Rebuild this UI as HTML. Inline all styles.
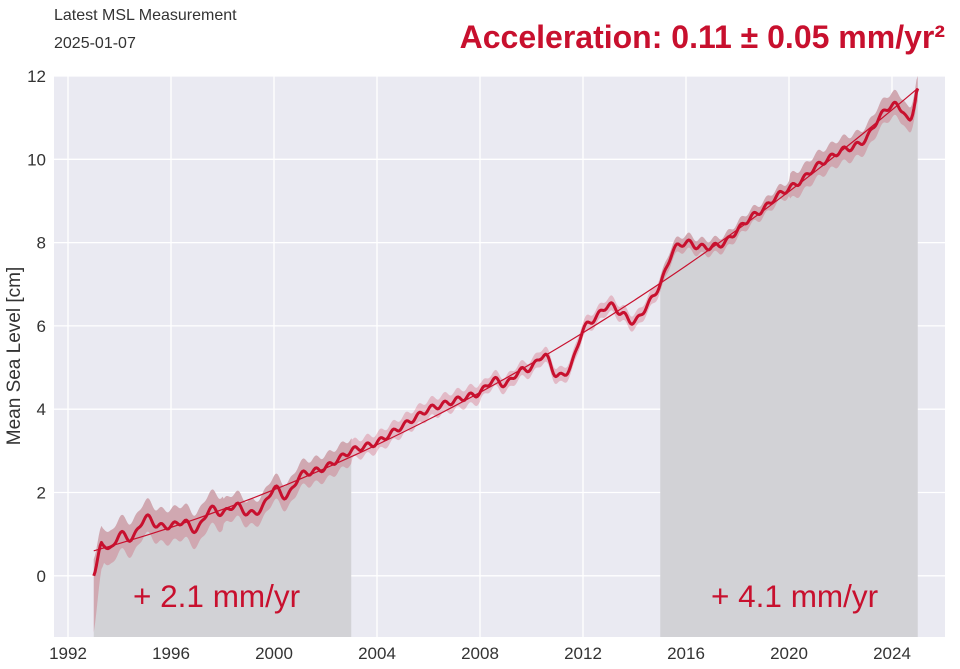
<!DOCTYPE html><html><head><meta charset="utf-8"><style>
body{margin:0;background:#fff;width:960px;height:664px;overflow:hidden;font-family:"Liberation Sans",sans-serif}
</style></head><body>
<svg id="s" width="960" height="664" xmlns="http://www.w3.org/2000/svg" font-family="Liberation Sans, sans-serif">
<text x="54" y="20" font-size="16" fill="#333">Latest MSL Measurement</text>
<text x="54" y="48" font-size="16" fill="#333">2025-01-07</text>
<text x="945" y="48" font-size="32" font-weight="bold" fill="#c8102e" text-anchor="end">Acceleration: 0.11 ± 0.05 mm/yr²</text>
<rect x="54" y="76" width="891" height="561" fill="#eaeaf2"/>
<g id="grid" stroke="#fff" stroke-width="1.3"></g>
<g id="data"></g>
<text transform="translate(20,356) rotate(-90)" font-size="19" fill="#333" text-anchor="middle">Mean Sea Level [cm]</text>
<g id="ticks" font-size="17" fill="#333"></g>
<text x="133" y="607" font-size="31.5" fill="#c8102e">+ 2.1 mm/yr</text>
<text x="711" y="607" font-size="31.5" fill="#c8102e">+ 4.1 mm/yr</text>
</svg>
<script>
var NS="http://www.w3.org/2000/svg";
function X(t){return 68+(t-1992)*25.75}
function Y(v){return 575.8-v*41.65}
function el(p,n,a,txt){var e=document.createElementNS(NS,n);for(var k in a)e.setAttribute(k,a[k]);if(txt!=null)e.textContent=txt;p.appendChild(e);return e}
var g=document.getElementById('grid'),tk=document.getElementById('ticks');
for(var y=1992;y<=2024;y+=4){el(g,'line',{x1:X(y),x2:X(y),y1:76,y2:637});el(tk,'text',{x:X(y),y:659,'text-anchor':'middle'},y)}
for(var v=0;v<=12;v+=2){el(g,'line',{x1:54,x2:945,y1:Y(v),y2:Y(v)});el(tk,'text',{x:46,y:Y(v)+6,'text-anchor':'end'},v)}
var A=[[1993,0],[1993.3,0.8],[1993.6,0.6],[1994,1.0],[1994.5,0.9],[1995,1.4],[1995.5,1.2],[1996,1.2],[1996.5,1.3],[1997,1.1],[1997.5,1.6],[1998,1.5],[1998.5,1.7],[1999,1.5],[1999.5,1.6],[2000,2.1],[2000.5,1.9],[2001,2.4],[2001.5,2.5],[2002,2.6],[2002.5,2.8],[2003,3.0],[2003.5,3.1],[2004,3.2],[2004.5,3.4],[2005,3.6],[2005.5,3.8],[2006,4.0],[2006.5,4.1],[2007,4.2],[2007.5,4.3],[2008,4.4],[2008.5,4.7],[2009,4.6],[2009.5,4.9],[2010,5.0],[2010.5,5.3],[2011,4.8],[2011.5,5.0],[2012,5.9],[2012.5,6.2],[2013,6.5],[2013.5,6.3],[2014,6.1],[2014.5,6.5],[2015,7.0],[2015.5,7.8],[2016,8.0],[2016.5,7.9],[2017,7.9],[2017.5,8.0],[2018,8.3],[2018.5,8.6],[2019,8.8],[2019.5,9.1],[2020,9.3],[2020.5,9.5],[2021,9.8],[2021.5,10.0],[2022,10.2],[2022.5,10.3],[2023,10.5],[2023.5,11.0],[2024,11.3],[2024.4,11.2],[2024.7,10.9],[2025,11.7]];
function f(t){for(var i=0;i<A.length-1;i++){if(t<=A[i+1][0]){var p0=A[Math.max(i-1,0)],p1=A[i],p2=A[i+1],p3=A[Math.min(i+2,A.length-1)];var u=(t-p1[0])/(p2[0]-p1[0]);var m1=(p2[1]-p0[1])/2*0.8,m2=(p3[1]-p1[1])/2*0.8;var h00=2*u*u*u-3*u*u+1,h10=u*u*u-2*u*u+u,h01=-2*u*u*u+3*u*u,h11=u*u*u-u*u;return h00*p1[1]+h10*m1+h01*p2[1]+h11*m2}}return A[A.length-1][1]}
var pts=[];for(var t=1993;t<=2025.001;t+=0.05){var w=(t>1993.3&&t<2024.9)?0.07*Math.sin(t*2*Math.PI*2):0;pts.push([t,f(t)+w])}
function band(t){return t<1998?0.4:t<2003?0.3:t<2008?0.22:t<2020?0.18:0.3}
var d=document.getElementById('data');
function shade(a,b){var s='M'+X(a)+',637';pts.forEach(function(p){if(p[0]>=a-1e-6&&p[0]<=b+1e-6)s+='L'+X(p[0])+','+Y(p[1]+band(p[0]))});s+='L'+X(b)+',637Z';el(d,'path',{d:s,fill:'#d2d2d6'})}
shade(1993,2003);shade(2015,2025);
var up='',lo='';pts.forEach(function(p,i){up+=(i?'L':'M')+X(p[0])+','+Y(p[1]+band(p[0]));});for(var i=pts.length-1;i>=0;i--){var p=pts[i];lo+='L'+X(p[0])+','+Y(p[1]-band(p[0])-(p[0]<1993.4?1.2*(1993.4-p[0])*2:0))}
el(d,'path',{d:up+lo+'Z',fill:'#c8102e','fill-opacity':0.22});
var tr='';for(var t=1993;t<=2025.01;t+=0.5){var v=0.6+0.171*(t-1993)+0.0055*(t-1993)*(t-1993);tr+=(t==1993?'M':'L')+X(t)+','+Y(v)}
el(d,'path',{d:tr,fill:'none',stroke:'#c8102e','stroke-width':1.2});
var ln='';pts.forEach(function(p,i){ln+=(i?'L':'M')+X(p[0])+','+Y(p[1])});
el(d,'path',{d:ln,fill:'none',stroke:'#c8102e','stroke-width':3,'stroke-linejoin':'round'});
</script>
</body></html>
